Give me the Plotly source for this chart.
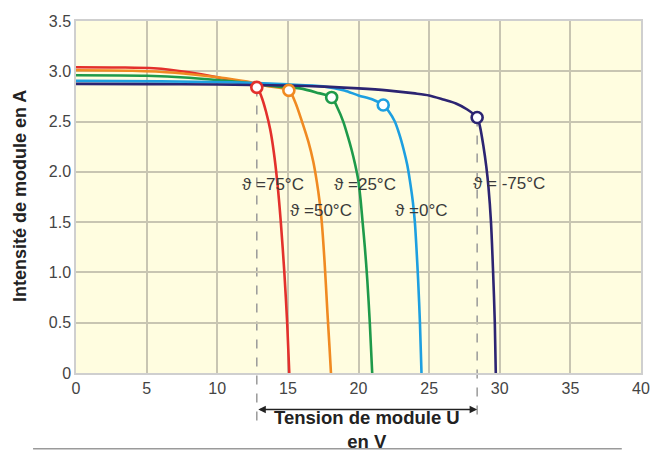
import plotly.graph_objects as go

# I-V curves of a solar module at different temperatures
labels = ["ϑ =75°C", "ϑ =50°C", "ϑ =25°C", "ϑ =0°C", "ϑ = -75°C"]
colors = ["#e3302c", "#f08a22", "#1e9a4a", "#1d9fe0", "#2c2472"]

v_75 = [0, 3, 5.5, 8, 10, 11.5, 12.8, 13.15, 13.45, 13.75, 14.0, 14.25, 14.5, 14.75, 14.95, 15.1]
i_75 = [3.04, 3.038, 3.03, 2.99, 2.94, 2.89, 2.84, 2.74, 2.6, 2.42, 2.2, 1.9, 1.5, 1.0, 0.5, 0]

v_50 = [0, 4, 7, 10, 12, 13.5, 15.07, 15.5, 16.0, 16.45, 16.8, 17.05, 17.25, 17.4, 17.6, 17.8, 17.95, 18.05]
i_50 = [3.01, 3.005, 2.985, 2.94, 2.9, 2.855, 2.81, 2.7, 2.5, 2.3, 2.1, 1.9, 1.7, 1.5, 1.1, 0.6, 0.25, 0]

v_25 = [0, 5, 8, 11, 13, 14.5, 15.85, 17.0, 18.1, 18.5, 18.92, 19.25, 19.51, 19.75, 19.98, 20.15, 20.29, 20.45, 20.62, 20.8, 20.97]
i_25 = [2.96, 2.955, 2.935, 2.90, 2.87, 2.845, 2.83, 2.79, 2.74, 2.64, 2.5, 2.35, 2.22, 2.08, 1.92, 1.72, 1.5, 1.25, 0.93, 0.5, 0]

v_0 = [0, 6, 11, 15, 17.5, 19, 20, 21, 21.75, 22.15, 22.57, 22.9, 23.2, 23.45, 23.63, 23.85, 23.99, 24.1, 24.22, 24.35, 24.46]
i_0 = [2.905, 2.9, 2.89, 2.87, 2.85, 2.81, 2.76, 2.72, 2.665, 2.6, 2.5, 2.37, 2.22, 2.07, 1.92, 1.7, 1.5, 1.25, 0.93, 0.5, 0]

v_m75 = [0, 5, 10, 15, 18, 20, 22, 24, 25, 26, 26.9, 27.7, 28.4, 28.6, 28.85, 29.05, 29.2, 29.38, 29.53, 29.65, 29.72]
i_m75 = [2.875, 2.872, 2.868, 2.858, 2.845, 2.83, 2.81, 2.78, 2.76, 2.72, 2.68, 2.62, 2.54, 2.45, 2.25, 2.05, 1.85, 1.5, 1.0, 0.5, 0]

mpp_v = [12.8, 15.07, 18.1, 21.75, 28.4]
mpp_i = [2.84, 2.81, 2.74, 2.665, 2.54]

label_x = [13.97, 17.34, 20.45, 24.42, 30.64]
label_y = [1.87, 1.62, 1.87, 1.62, 1.88]

x_ticks = [0, 5, 10, 15, 20, 25, 30, 35, 40]
y_ticks = [0, 0.5, 1.0, 1.5, 2.0, 2.5, 3.0, 3.5]
y_ticktext = ["0", "0.5", "1.0", "1.5", "2.0", "2.5", "3.0", "3.5"]

curves = [(v_75, i_75), (v_50, i_50), (v_25, i_25), (v_0, i_0), (v_m75, i_m75)]

FONT = "Liberation Sans, Arial, Helvetica, sans-serif"
fig = go.Figure()

for (vv, ii), c in zip(curves, colors):
    fig.add_trace(go.Scatter(x=vv, y=ii, mode="lines",
                             line=dict(color=c, width=2.6, shape="spline", smoothing=0.8),
                             hoverinfo="skip", showlegend=False))

for k, c in enumerate(colors):
    fig.add_trace(go.Scatter(x=[mpp_v[k]], y=[mpp_i[k]], mode="markers",
                             marker=dict(size=11, color="white", line=dict(color=c, width=2.6)),
                             showlegend=False, cliponaxis=False))

# dashed guide lines for the voltage range (first and last MPP)
for k in (0, 4):
    fig.add_shape(type="line", xref="x", yref="paper",
                  x0=mpp_v[k], x1=mpp_v[k], y0=mpp_i[k] / 3.5, y1=-0.14,
                  line=dict(color="#9a9a9a", width=1.5, dash="dash"), layer="below")

for t, x, y in zip(labels, label_x, label_y):
    fig.add_annotation(x=x, y=y, xref="x", yref="y", text=t, showarrow=False,
                       font=dict(family=FONT, size=17, color="#3a3a3a"))

# double arrow between the two dashed lines
fig.add_annotation(x=mpp_v[4], y=-0.104, xref="x", yref="paper",
                   ax=mpp_v[0], ay=0, axref="x", ayref="pixel",
                   text="", showarrow=True, arrowhead=2, arrowside="end+start",
                   arrowsize=1, arrowwidth=1.5, arrowcolor="#222222", standoff=0, startstandoff=0)

fig.add_annotation(x=0.515, y=-0.16, xref="paper", yref="paper", xanchor="center",
                   yanchor="middle", text="<b>Tension de module U<br>en V</b>", showarrow=False,
                   font=dict(family=FONT, size=18.5, color="#222222"))
fig.add_annotation(x=-0.099, y=0.503, xref="paper", yref="paper", xanchor="center",
                   yanchor="middle", text="<b>Intensité de module en A</b>", textangle=-90,
                   showarrow=False, font=dict(family=FONT, size=18, color="#222222"))

fig.add_shape(type="line", xref="paper", yref="paper", x0=-0.076, x1=0.966,
              y0=-0.2155, y1=-0.2155, line=dict(color="#9a9a9a", width=1.5))

fig.update_layout(
    width=651, height=451,
    margin=dict(l=76, r=10, t=21, b=78, autoexpand=False),
    paper_bgcolor="white", plot_bgcolor="#fffde0",
    font=dict(family=FONT, size=16, color="#444444"),
    showlegend=False,
)
fig.update_xaxes(range=[0, 40], tickvals=x_ticks, showgrid=True, gridcolor="#c8c5b2",
                 gridwidth=1.6, showline=True, linecolor="#cfcfcf", linewidth=1.5,
                 mirror=True, zeroline=False, ticks="", fixedrange=True, automargin=False)
fig.update_yaxes(range=[0, 3.5], tickvals=y_ticks, ticktext=y_ticktext, showgrid=True,
                 gridcolor="#c8c5b2", gridwidth=1.6, showline=True, linecolor="#cfcfcf",
                 linewidth=1.5, mirror=True, zeroline=False, ticks="", fixedrange=True,
                 automargin=False)

# remove the page's default 8px body margin so the figure fills the window exactly
fig.write_html("out.html", config={"displayModeBar": False},
               post_script="document.body.style.margin='0';document.body.style.overflow='hidden';")
